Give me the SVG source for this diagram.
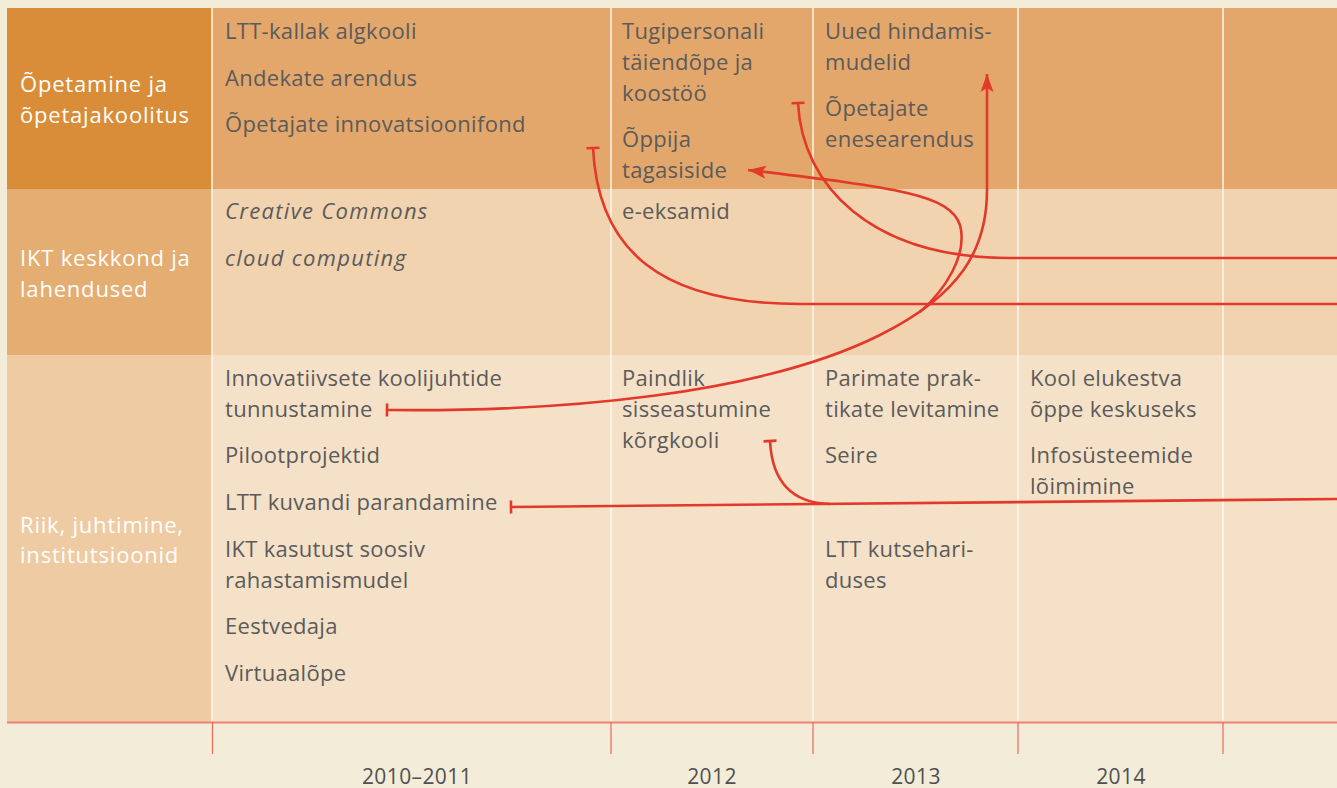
<svg xmlns="http://www.w3.org/2000/svg" width="1337" height="788" viewBox="0 0 1337 788">
<style>
.t{font-family:"Open Sans","Liberation Sans",sans-serif;font-size:22px;letter-spacing:0.3px;fill:#5b5b5b}
.i{font-style:italic;letter-spacing:1.3px}
.h{font-family:"Open Sans","Liberation Sans",sans-serif;font-size:22px;letter-spacing:0.8px;fill:#ffffff}
.y{font-family:"Open Sans","Liberation Sans",sans-serif;font-size:21px;letter-spacing:0.4px;fill:#505050;text-anchor:middle}
.sep{stroke:#fff6ea;stroke-width:1.5}
.tick{stroke:#ea6a55;stroke-width:1.2}
.c{fill:none;stroke:#e2392a;stroke-width:2.6}
</style>
<defs>
<marker id="arr" markerUnits="userSpaceOnUse" viewBox="-20 -8 22 16" markerWidth="22" markerHeight="16" refX="0" refY="0" orient="auto">
<path d="M-18,-6.5 L0,0 L-18,6.5 L-14,0 Z" fill="#e2392a"/>
</marker>
<marker id="tee" markerUnits="userSpaceOnUse" viewBox="-3 -8 6 16" markerWidth="6" markerHeight="16" refX="0" refY="0" orient="auto">
<path d="M0,-6.5 L0,6.5" stroke="#e2392a" stroke-width="2.6"/>
</marker>
</defs>
<rect x="0" y="0" width="1337" height="788" fill="#f3ecd9"/>

<g id="row1">
<rect x="7" y="8" width="205" height="181" fill="#d98d38"/>
<rect x="212" y="8" width="1125" height="181" fill="#e3a76b"/>
<text class="h" x="20" y="92">Õpetamine ja</text>
<text class="h" x="20" y="123">õpetajakoolitus</text>
</g>
<g id="row2">
<rect x="7" y="189" width="205" height="166" fill="#e4ad71"/>
<rect x="212" y="189" width="1125" height="166" fill="#f1d3af"/>
<text class="h" x="20" y="266">IKT keskkond ja</text>
<text class="h" x="20" y="297">lahendused</text>
</g>
<g id="row3">
<rect x="7" y="355" width="205" height="367" fill="#efcba4"/>
<rect x="212" y="355" width="1125" height="367" fill="#f5e1c7"/>
<text class="h" x="20" y="533">Riik, juhtimine,</text>
<text class="h" x="20" y="563">institutsioonid</text>
</g>

<g id="grid">
<line class="sep" x1="212" y1="8" x2="212" y2="722"/>
<line class="sep" x1="611" y1="8" x2="611" y2="722"/>
<line class="sep" x1="813" y1="8" x2="813" y2="722"/>
<line class="sep" x1="1018" y1="8" x2="1018" y2="722"/>
<line class="sep" x1="1223" y1="8" x2="1223" y2="722"/>
<line x1="7" y1="722.5" x2="1337" y2="722.5" stroke="#ee8270" stroke-width="1.8"/>
<line class="tick" x1="212.5" y1="722" x2="212.5" y2="754"/>
<line class="tick" x1="611" y1="722" x2="611" y2="754"/>
<line class="tick" x1="813" y1="722" x2="813" y2="754"/>
<line class="tick" x1="1018" y1="722" x2="1018" y2="754"/>
<line class="tick" x1="1223" y1="722" x2="1223" y2="754"/>
</g>

<g id="years">
<text class="y" x="417" y="784">2010–2011</text>
<text class="y" x="712" y="784">2012</text>
<text class="y" x="916" y="784">2013</text>
<text class="y" x="1121" y="784">2014</text>
</g>

<g id="n-ltt-kallak"><text class="t" x="225" y="39">LTT-kallak algkooli</text></g>
<g id="n-andekate"><text class="t" x="225" y="86">Andekate arendus</text></g>
<g id="n-innovatsioonifond"><text class="t" x="225" y="132">Õpetajate innovatsioonifond</text></g>
<g id="n-tugipersonali"><text class="t" x="622" y="39">Tugipersonali</text><text class="t" x="622" y="70">täiendõpe ja</text><text class="t" x="622" y="101">koostöö</text></g>
<g id="n-tagasiside"><text class="t" x="622" y="147">Õppija</text><text class="t" x="622" y="178">tagasiside</text></g>
<g id="n-hindamis"><text class="t" x="825" y="39">Uued hindamis-</text><text class="t" x="825" y="70">mudelid</text></g>
<g id="n-enesearendus"><text class="t" x="825" y="116">Õpetajate</text><text class="t" x="825" y="147">enesearendus</text></g>

<g id="n-cc"><text class="t i" x="225" y="219">Creative Commons</text></g>
<g id="n-cloud"><text class="t i" x="225" y="266">cloud computing</text></g>
<g id="n-eeksamid"><text class="t" x="622" y="219">e-eksamid</text></g>

<g id="n-koolijuhtide"><text class="t" x="225" y="386">Innovatiivsete koolijuhtide</text><text class="t" x="225" y="417">tunnustamine</text></g>
<g id="n-pilootprojektid"><text class="t" x="225" y="463">Pilootprojektid</text></g>
<g id="n-kuvandi"><text class="t" x="225" y="510">LTT kuvandi parandamine</text></g>
<g id="n-rahastamis"><text class="t" x="225" y="557">IKT kasutust soosiv</text><text class="t" x="225" y="588">rahastamismudel</text></g>
<g id="n-eestvedaja"><text class="t" x="225" y="634">Eestvedaja</text></g>
<g id="n-virtuaal"><text class="t" x="225" y="681">Virtuaalõpe</text></g>
<g id="n-paindlik"><text class="t" x="622" y="386">Paindlik</text><text class="t" x="622" y="417">sisseastumine</text><text class="t" x="622" y="448">kõrgkooli</text></g>
<g id="n-parimate"><text class="t" x="825" y="386">Parimate prak-</text><text class="t" x="825" y="417">tikate levitamine</text></g>
<g id="n-seire"><text class="t" x="825" y="463">Seire</text></g>
<g id="n-kutseharidus"><text class="t" x="825" y="557">LTT kutsehari-</text><text class="t" x="825" y="588">duses</text></g>
<g id="n-elukestva"><text class="t" x="1030" y="386">Kool elukestva</text><text class="t" x="1030" y="417">õppe keskuseks</text></g>
<g id="n-infosysteemide"><text class="t" x="1030" y="463">Infosüsteemide</text><text class="t" x="1030" y="494">lõimimine</text></g>

<g id="connectors">
<path class="c" marker-start="url(#tee)" d="M798,103 C802,185 870,258 1010,258 L1337,258"/>
<path class="c" marker-start="url(#tee)" d="M593,148 C598,250 660,304 800,304 L1337,304"/>
<path class="c" marker-start="url(#tee)" marker-end="url(#arr)" d="M387,410 C560,412 760,395 880,335 C960,295 987,250 987,190 L987,74"/>
<path class="c" marker-end="url(#arr)" d="M920,312 C945,290 968,255 960,225 C950,195 900,188 748,170"/>
<path class="c" marker-start="url(#tee)" d="M511,507 L1337,499"/>
<path class="c" marker-start="url(#tee)" d="M770,441 C772,480 790,503 830,504"/>
</g>
</svg>
